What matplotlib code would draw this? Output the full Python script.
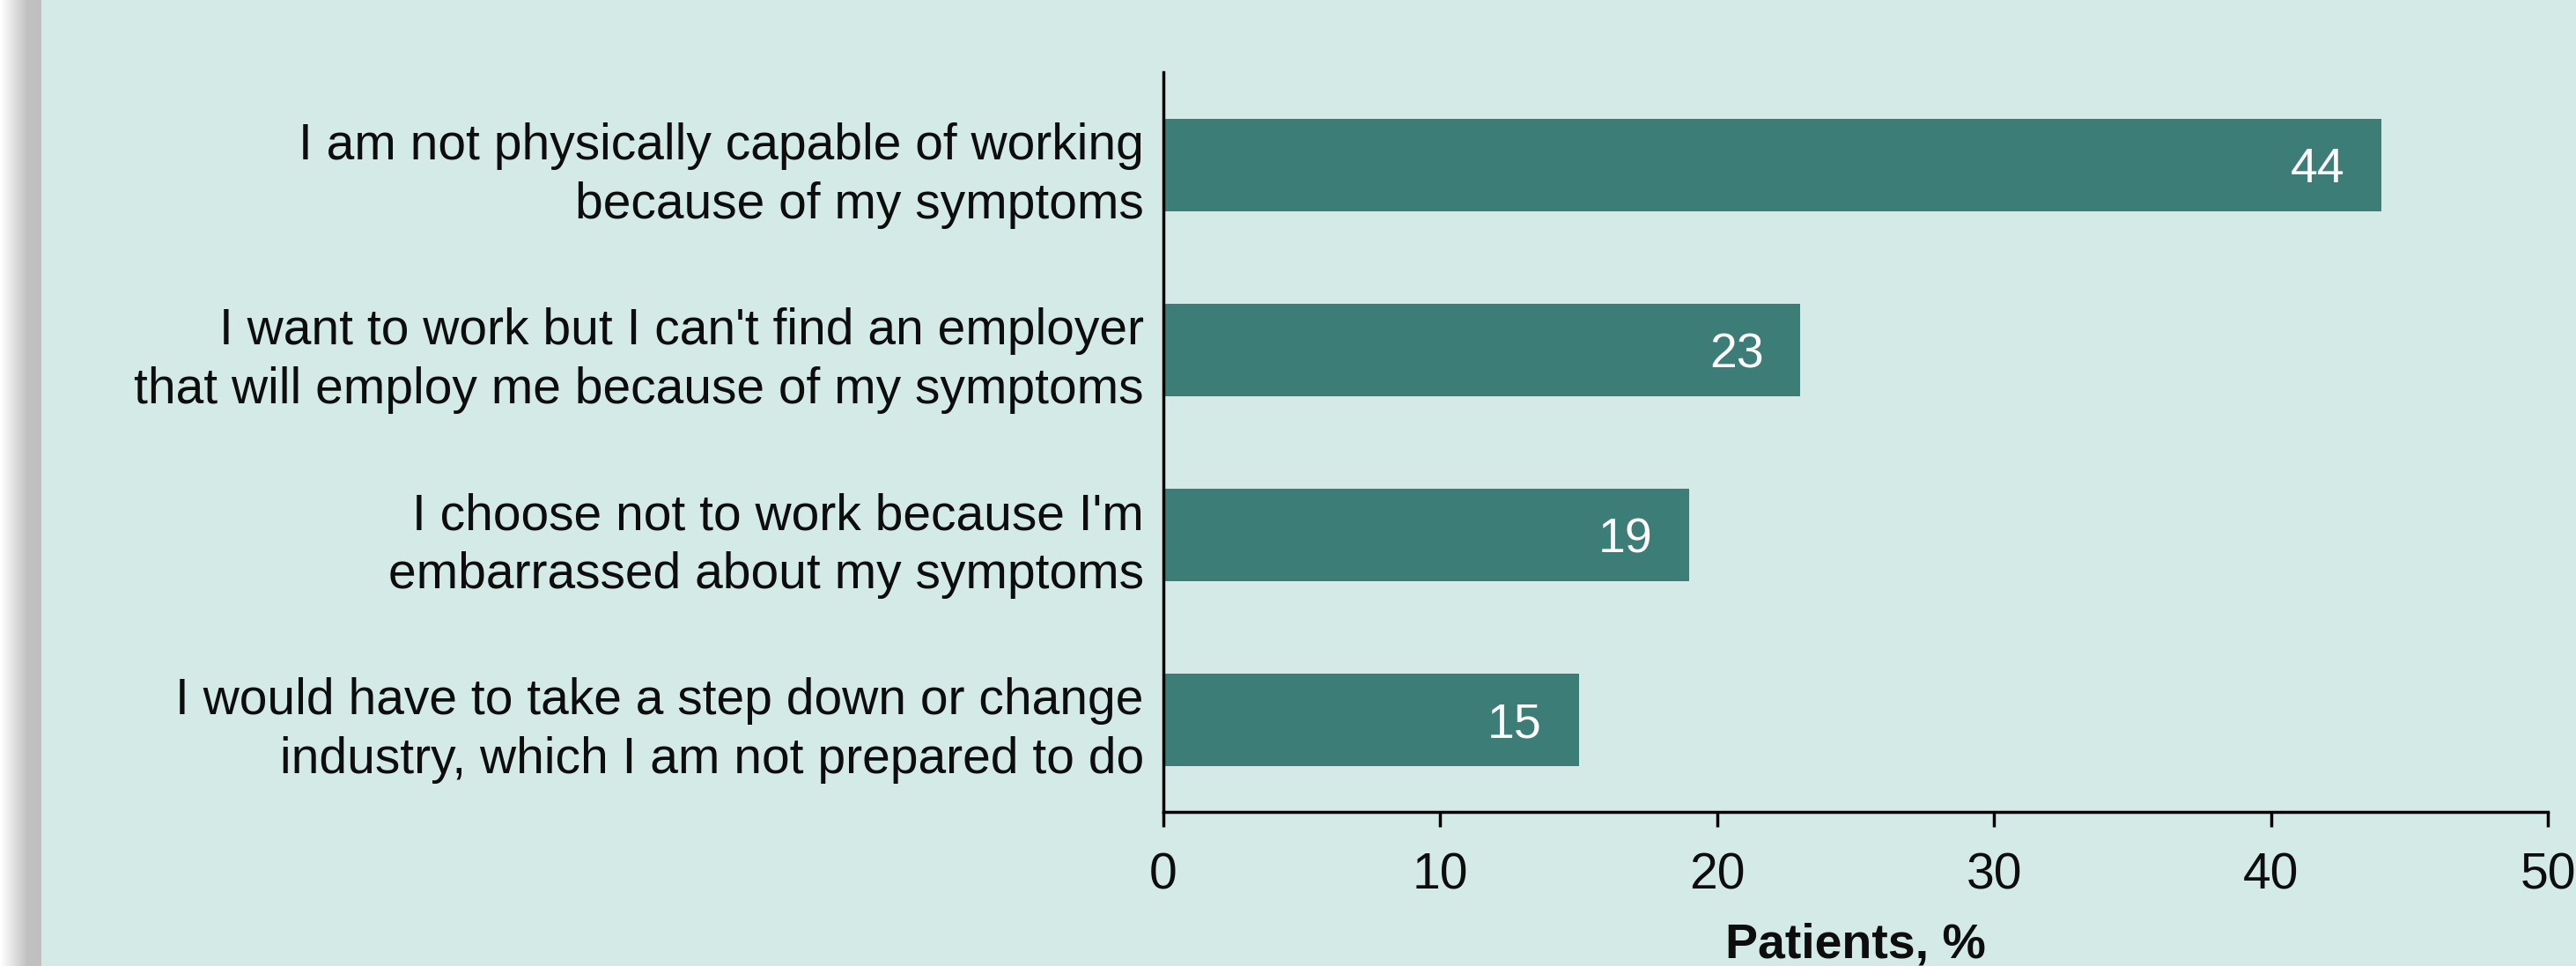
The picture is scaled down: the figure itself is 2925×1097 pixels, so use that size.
import matplotlib
matplotlib.use("Agg")
import matplotlib.pyplot as plt
import numpy as np

categories = [
    "I am not physically capable of working\nbecause of my symptoms",
    "I want to work but I can't find an employer\nthat will employ me because of my symptoms",
    "I choose not to work because I'm\nembarrassed about my symptoms",
    "I would have to take a step down or change\nindustry, which I am not prepared to do",
]
values = [44, 23, 19, 15]
x_ticks = [0, 10, 20, 30, 40, 50]
x_label = "Patients, %"

BG = "#d4eae7"
BAR = "#3c7d78"
TEXT = "#0d0d0d"

plt.rcParams["font.family"] = ["Liberation Sans", "DejaVu Sans"]

W, H = 2925, 1097
fig = plt.figure(figsize=(W / 100, H / 100), dpi=100)
fig.patch.set_facecolor(BG)

# grey gradient strip at the left edge
strip = fig.add_axes([0, 0, 47 / W, 1])
grad = np.concatenate([np.linspace(1.0, 0.75, 32), np.full(15, 0.75)])
strip.imshow(np.tile(grad, (2, 1)), cmap="gray", vmin=0, vmax=1, aspect="auto", extent=[0, 1, 0, 1])
strip.axis("off")

left, right = 1321 / W, 2893 / W
bottom, top = 1 - 922 / H, 1 - 82 / H
ax = fig.add_axes([left, bottom, right - left, top - bottom])
ax.set_facecolor(BG)

y = np.arange(len(categories))
ax.barh(y, values, height=0.5, color=BAR, zorder=2)
ax.set_ylim(len(categories) - 0.5, -0.5)
ax.set_xlim(0, 50)

for yi, v in zip(y, values):
    ax.annotate(str(v), (v, yi), xytext=(-30, 0), textcoords="offset points",
                ha="right", va="center_baseline", color="white", fontsize=40)

ax.set_yticks(y)
ax.set_yticklabels(categories, fontsize=41, color=TEXT, linespacing=1.3)
ax.tick_params(axis="y", length=0, pad=16)
ax.set_xticks(x_ticks)
ax.set_xticklabels([str(t) for t in x_ticks], fontsize=41, color=TEXT)
ax.tick_params(axis="x", length=12.5, width=2.5, pad=20, color="black")

for side in ["top", "right"]:
    ax.spines[side].set_visible(False)
for side in ["left", "bottom"]:
    ax.spines[side].set_linewidth(2.5)
    ax.spines[side].set_color("black")

fig.text((left + right) / 2, 10 / H, x_label, ha="center", va="baseline",
         fontsize=40, fontweight="bold", color=TEXT)

fig.savefig("out.png", dpi=100, facecolor=BG)
